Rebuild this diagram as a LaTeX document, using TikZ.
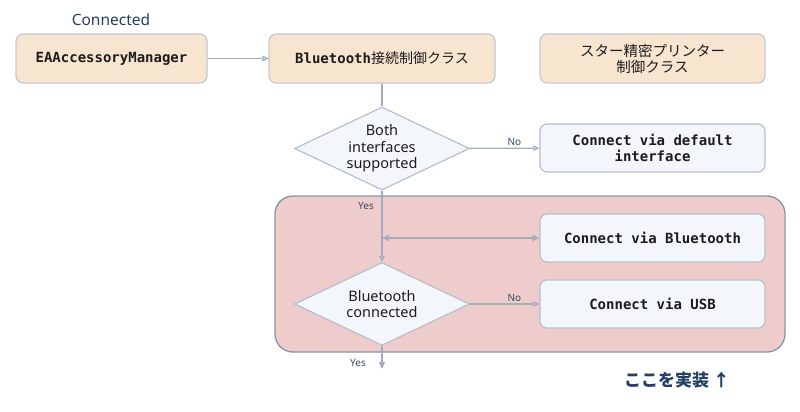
\documentclass[tikz,border=0pt]{standalone}
\usepackage{fontspec}
\setmainfont{Noto Sans}
\setmonofont{DejaVu Sans Mono}
\newfontfamily\cjk{Noto Sans CJK JP}
\usetikzlibrary{shapes.geometric,arrows.meta}
\definecolor{tanfill}{HTML}{F8E5D0}
\definecolor{boxborder}{HTML}{C4C9D2}
\definecolor{lightfill}{HTML}{F3F7FB}
\definecolor{lightborder}{HTML}{B7BFCC}
\definecolor{linecol}{HTML}{A3ACBB}
\definecolor{redfill}{HTML}{EECCCC}
\definecolor{redborder}{HTML}{8793A7}
\definecolor{navy}{HTML}{243F63}
\definecolor{txt}{HTML}{1C1C1C}
\definecolor{lblcol}{HTML}{3A4A60}
\tikzset{
  basebox/.style={rectangle, rounded corners=7pt, line width=1.2pt, align=center, text=txt,
    font=\fontsize{14}{16.5}\selectfont\ttfamily\bfseries, inner sep=0pt},
  tanbox/.style={basebox, fill=tanfill, draw=boxborder, minimum height=49pt},
  lightbox/.style={basebox, fill=lightfill, draw=lightborder, minimum width=225pt, minimum height=48pt},
  dia/.style={diamond, draw=lightborder, fill=lightfill, line width=1.2pt, minimum width=175pt, minimum height=83pt, inner sep=0pt},
  diatext/.style={align=center, text=txt, font=\fontsize{14.5}{16.5}\selectfont, inner sep=0pt},
  flow/.style={draw=linecol, line width=1.2pt},
  openarr/.style={-{Triangle[open, length=6pt, width=5.5pt]}},
  fillarr/.style={-{Triangle[length=7pt, width=6pt]}},
  lbl/.style={text=lblcol, font=\fontsize{10}{12}\selectfont\bfseries, inner sep=2pt},
  container/.style={rectangle, rounded corners=18pt, fill=redfill, draw=redborder, line width=1.3pt, minimum width=510pt, minimum height=156pt}
}
\begin{document}
\begin{tikzpicture}[x=1pt,y=-1pt]
\useasboundingbox (0,0) rectangle (800,412);
\node[container] (impl) at (530,274) {};
\node[text=navy, font=\fontsize{15.5}{18}\selectfont] (conn) at (111,20) {Connected};
\node[tanbox, minimum width=191pt] (eam) at (111.5,58.5) {EAAccessoryManager};
\node[tanbox, minimum width=226pt] (btc) at (382,58.5) {Bluetooth{\cjk\mdseries 接続制御クラス}};
\node[tanbox, minimum width=225pt, font=\fontsize{14.5}{16}\selectfont\cjk] (star) at (652.5,58.5) {スター精密プリンター\\制御クラス};
\node[dia] (d1) at (382,148.5) {};
\node[diatext] (d1t) at (d1.center) {Both\\interfaces\\supported};
\node[lightbox] (def) at (652.5,148) {Connect via default\\interface};
\node[lightbox] (cbt) at (652.5,238) {Connect via Bluetooth};
\node[dia] (d2) at (382,304) {};
\node[diatext] (d2t) at (d2.center) {Bluetooth\\connected};
\node[lightbox] (usb) at (652.5,304) {Connect via USB};
\coordinate (j) at (382,238);
\coordinate (out) at (382,369);
\draw[flow, openarr] (eam) -- (btc);
\draw[flow] (btc) -- (d1);
\draw[flow, openarr] (d1) -- node[lbl, above, pos=0.64] {No} (def);
\draw[flow, openarr] (d1) -- (d2);
\node[lbl] (yes1) at (366,206) {Yes};
\draw[flow, {Triangle[length=7pt, width=6pt]}-{Triangle[length=7pt, width=6pt]}] (j) -- (cbt.west);
\draw[flow, openarr] (d2) -- node[lbl, above, pos=0.64] {No} (usb);
\draw[flow, fillarr] (d2) -- (out);
\node[lbl] (yes2) at (358,363) {Yes};
\node[text=navy, font=\fontsize{17}{20}\selectfont\cjk\bfseries] (here) at (677,380) {ここを実装 ↑};
\end{tikzpicture}
\end{document}
